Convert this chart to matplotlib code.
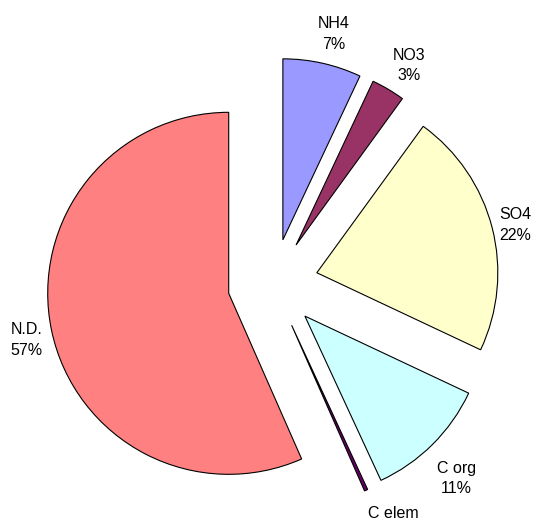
import matplotlib
matplotlib.use("Agg")
import matplotlib.pyplot as plt

# slices, clockwise from 12 o'clock
names = ["NH4", "NO3", "SO4", "C org", "C elem", "N.D."]
values = [7.0, 3.0, 22.0, 11.1, 0.3, 56.6]
pct_text = ["7%", "3%", "22%", "11%", "", "57%"]
colors = ["#9999FF", "#993366", "#FFFFCC", "#CCFFFF", "#660066", "#FF8080"]

labels = [n + ("\n" + p if p else "") for n, p in zip(names, pct_text)]

# small nudges of the labels, in pixels (right, down)
nudge = [(5, 1), (5, 3), (-7, 5), (2, 12), (15, -5), (5, 3)]

plt.rcParams["font.family"] = ["Liberation Sans", "DejaVu Sans"]

fig = plt.figure(figsize=(5.35, 5.21), dpi=100)
ax = fig.add_axes([0, 0, 1, 1])

wedges, texts = ax.pie(values, labels=labels, colors=colors, startangle=90,
                       counterclock=False, explode=[0.25] * len(values),
                       radius=1, labeldistance=1.17,
                       wedgeprops=dict(edgecolor="black", linewidth=0.8),
                       textprops=dict(fontsize=11.5, ha="center", va="center",
                                      linespacing=1.45))

# pie radius is about 181 px, centre at (273, 284) px from top-left
s = 181.0
ax.set_xlim(-273 / s, (535 - 273) / s)
ax.set_ylim(-(521 - 284) / s, 284 / s)
ax.axis("off")

for t, (dx, dy) in zip(texts, nudge):
    x, y = t.get_position()
    t.set_position((x + dx / s, y - dy / s))

fig.savefig("out.png", dpi=100)
